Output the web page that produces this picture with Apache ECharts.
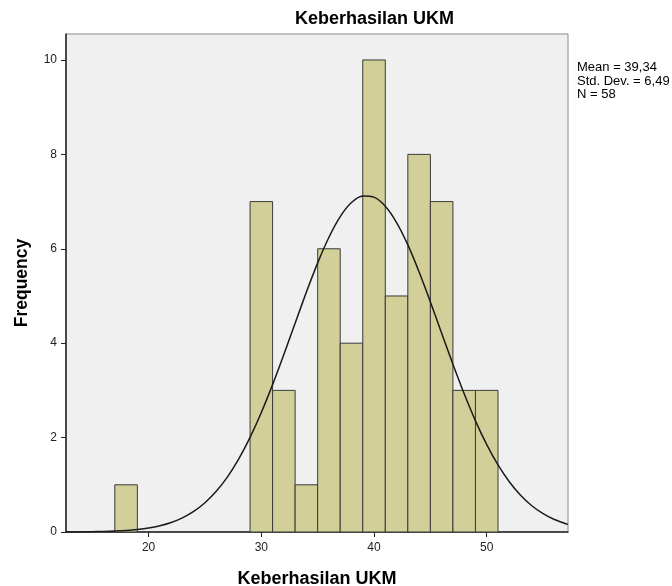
<!DOCTYPE html>
<html>
<head>
<meta charset="utf-8">
<script src="https://cdn.jsdelivr.net/npm/echarts@6/dist/echarts.min.js"></script>
<style>html,body{margin:0;padding:0;background:#fff}#c{width:672px;height:586px}</style>
</head>
<body>
<div id="c"></div>
<script>
const chartTitle = 'Keberhasilan UKM';
const xTitle = 'Keberhasilan UKM';
const yTitle = 'Frequency';
const statsLines = ['Mean = 39,34', 'Std. Dev. = 6,49', 'N = 58'];
const binStarts = [17, 29, 31, 33, 35, 37, 39, 41, 43, 45, 47, 49];
const binWidth = 2;
const counts = [1, 7, 3, 1, 6, 4, 10, 5, 8, 7, 3, 3];
const curveX = [12.7, 13, 14, 15, 16, 17, 18, 19, 20, 21, 22, 23, 24, 25, 26, 27, 28, 29, 30, 31, 32, 33, 34, 35, 36, 37, 38, 39, 40, 41, 42, 43, 44, 45, 46, 47, 48, 49, 50, 51, 52, 53, 54, 55, 56, 57, 57.2];
const curveY = [0.0016, 0.0019, 0.0035, 0.0063, 0.0111, 0.019, 0.032, 0.0525, 0.0841, 0.132, 0.201, 0.300, 0.437, 0.621, 0.862, 1.169, 1.549, 2.004, 2.531, 3.122, 3.761, 4.424, 5.082, 5.701, 6.245, 6.682, 6.980, 7.120, 7.093, 6.900, 6.555, 6.082, 5.509, 4.875, 4.211, 3.553, 2.927, 2.355, 1.850, 1.420, 1.064, 0.779, 0.556, 0.388, 0.264, 0.176, 0.162];
const xTicks = [20, 30, 40, 50];
const yTicks = [0, 2, 4, 6, 8, 10];

const chart = echarts.init(document.getElementById('c'), null, {renderer: 'canvas'});
const barData = binStarts.map((s, i) => [s, s + binWidth, counts[i]]);
const curveData = curveX.map((x, i) => [x, curveY[i]]);
const font = 'Liberation Sans, Arial, sans-serif';

chart.setOption({
  animation: false,
  backgroundColor: '#ffffff',
  title: {
    text: chartTitle,
    left: 290, top: 5,
    textStyle: {fontFamily: font, fontSize: 18, fontWeight: 'bold', color: '#000'}
  },
  grid: {
    left: 66, right: 104, top: 34, bottom: 54,
    containLabel: false, outerBoundsMode: 'none',
    show: true, backgroundColor: '#f0f0f0', borderColor: '#8a8a8a', borderWidth: 1
  },
  xAxis: {
    type: 'value', min: 12.67, max: 57.21,
    name: xTitle, nameLocation: 'middle', nameGap: 38,
    nameTextStyle: {fontFamily: font, fontSize: 18, fontWeight: 'bold', color: '#000'},
    axisLine: {show: true, onZero: false, lineStyle: {color: '#222', width: 1.5}},
    axisTick: {show: true, customValues: xTicks, length: 5, lineStyle: {color: '#222'}},
    axisLabel: {customValues: xTicks, fontFamily: font, fontSize: 12, color: '#222', margin: 10},
    splitLine: {show: false}
  },
  yAxis: {
    type: 'value', min: 0, max: 10.55,
    name: yTitle, nameLocation: 'middle', nameGap: 35, nameRotate: 90,
    nameTextStyle: {fontFamily: font, fontSize: 17.5, fontWeight: 'bold', color: '#000'},
    axisLine: {show: true, onZero: false, lineStyle: {color: '#222', width: 1.5}},
    axisTick: {show: true, customValues: yTicks, length: 5, lineStyle: {color: '#222'}},
    axisLabel: {customValues: yTicks, fontFamily: font, fontSize: 12, color: '#222', margin: 9},
    splitLine: {show: false}
  },
  series: [
    {
      type: 'custom',
      data: barData,
      encode: {x: [0, 1], y: 2},
      renderItem: function (params, api) {
        const p0 = api.coord([api.value(0), 0]);
        const p1 = api.coord([api.value(1), api.value(2)]);
        return {
          type: 'rect',
          shape: {x: p0[0], y: p1[1], width: p1[0] - p0[0], height: p0[1] - p1[1]},
          style: {fill: '#d3cf98', stroke: '#3a3a3a', lineWidth: 1}
        };
      },
      z: 2
    },
    {
      type: 'line',
      data: curveData,
      smooth: 0.3,
      showSymbol: false,
      symbol: 'none',
      lineStyle: {color: '#1a1a1a', width: 1.5},
      z: 3
    }
  ],
  graphic: [
    {
      type: 'text', left: 577, top: 61,
      style: {text: statsLines.join('\n'), fontFamily: font, fontSize: 13, lineHeight: 13.5, fill: '#000'}
    }
  ]
});
</script>
</body>
</html>
